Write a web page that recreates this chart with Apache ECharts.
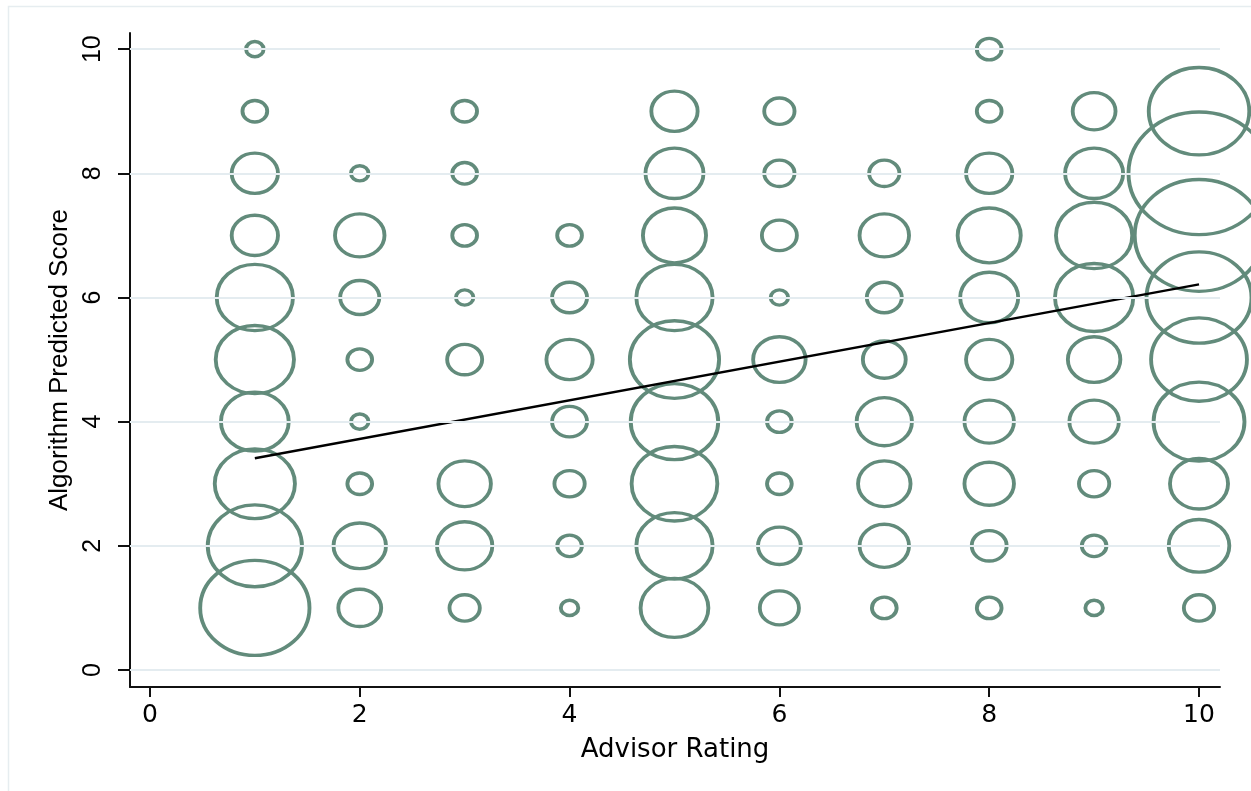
<!DOCTYPE html>
<html>
<head>
<meta charset="utf-8">
<script src="https://cdn.jsdelivr.net/npm/echarts@6/dist/echarts.min.js"></script>
<style>
html,body{margin:0;padding:0;background:#fff;}
#chart{width:1251px;height:791px;}
</style>
</head>
<body>
<div id="chart"></div>
<script>
// Advisor rating (x) and algorithm predicted score (y) categories
const advisorRatings = [1, 2, 3, 4, 5, 6, 7, 8, 9, 10];
const predictedScores = [1, 2, 3, 4, 5, 6, 7, 8, 9, 10];
// Frequencies per advisor rating, indexed by predicted score 1..10
const freqRating1  = [39, 29, 21, 15, 20, 19, 7, 7, 2, 1];
const freqRating2  = [6, 9, 2, 1, 2, 5, 8, 1, 0, 0];
const freqRating3  = [3, 10, 9, 0, 4, 1, 2, 2, 2, 0];
const freqRating4  = [1, 2, 3, 4, 7, 4, 2, 0, 0, 0];
const freqRating5  = [15, 19, 24, 25, 26, 19, 13, 11, 7, 0];
const freqRating6  = [5, 6, 2, 2, 9, 1, 4, 3, 3, 0];
const freqRating7  = [2, 8, 9, 10, 6, 4, 8, 3, 0, 0];
const freqRating8  = [2, 4, 8, 8, 7, 11, 13, 7, 2, 2];
const freqRating9  = [1, 2, 3, 8, 9, 20, 19, 11, 6, 0];
const freqRating10 = [3, 12, 11, 27, 30, 36, 54, 65, 33, 0];
// Linear fit endpoints
const fitX = [1, 10];
const fitY = [3.41, 6.21];
// Tick labels
const xTicks = [0, 2, 4, 6, 8, 10];
const yTicks = [0, 2, 4, 6, 8, 10];

const freqTable = [freqRating1, freqRating2, freqRating3, freqRating4, freqRating5,
                   freqRating6, freqRating7, freqRating8, freqRating9, freqRating10];
const bubbleData = [];
advisorRatings.forEach((ar, i) => {
  predictedScores.forEach((ps, j) => {
    const n = freqTable[i][j];
    if (n > 0) bubbleData.push([ar, ps, n]);
  });
});
const fitData = fitX.map((x, i) => [x, fitY[i]]);

const chart = echarts.init(document.getElementById('chart'), null, {renderer: 'canvas'});
const axisColor = '#111';
const gridColor = '#e4ecf0';
const bubbleColor = '#628b7b';

chart.setOption({
  animation: false,
  backgroundColor: '#ffffff',
  graphic: [{
    type: 'rect', left: 6, top: 4, silent: true, z: -10,
    shape: {width: 1400, height: 1000},
    style: {fill: 'none', stroke: '#e6edf0', lineWidth: 1.5}
  }],
  grid: {left: 130, right: 31, top: 33, bottom: 104, containLabel: false},
  xAxis: {
    type: 'value', min: -0.19, max: 10.2,
    name: 'Advisor Rating', nameLocation: 'middle', nameGap: 50,
    nameTextStyle: {fontFamily: 'DejaVu Sans', fontSize: 26, color: '#000'},
    axisLine: {show: true, onZero: false, lineStyle: {color: axisColor, width: 2}},
    axisTick: {show: true, length: 10, customValues: xTicks, lineStyle: {color: axisColor, width: 2}},
    axisLabel: {show: true, customValues: xTicks, margin: 16, fontFamily: 'DejaVu Sans', fontSize: 25, color: '#000'},
    splitLine: {show: false}
  },
  yAxis: {
    type: 'value', min: -0.274, max: 10.26,
    name: 'Algorithm Predicted Score', nameLocation: 'middle', nameGap: 56,
    nameTextStyle: {fontFamily: 'Liberation Sans', fontSize: 26, color: '#000'},
    axisLine: {show: true, onZero: false, lineStyle: {color: axisColor, width: 2}},
    axisTick: {show: true, length: 12, customValues: yTicks, lineStyle: {color: axisColor, width: 2}},
    axisLabel: {show: true, customValues: yTicks, rotate: 90, margin: 24, fontFamily: 'Liberation Sans', fontSize: 25, color: '#000'},
    splitLine: {show: false}
  },
  series: [
    {
      type: 'line', data: [], silent: true,
      markLine: {
        silent: true, symbol: 'none', animation: false,
        label: {show: false},
        lineStyle: {color: gridColor, width: 2, type: 'solid'},
        data: yTicks.map(v => ({yAxis: v}))
      },
      z: 1
    },
    {
      type: 'scatter', data: bubbleData, z: 3,
      symbol: 'circle',
      symbolSize: function (val) {
        const w = 17.5 * Math.sqrt(val[2]);
        return [w, w / 1.15];
      },
      itemStyle: {color: 'rgba(0,0,0,0)', borderColor: bubbleColor, borderWidth: 3.6, opacity: 1},
      silent: true
    },
    {
      type: 'line', data: fitData, z: 4, symbol: 'none', silent: true,
      lineStyle: {color: '#000', width: 2.4}
    }
  ]
});
</script>
</body>
</html>
